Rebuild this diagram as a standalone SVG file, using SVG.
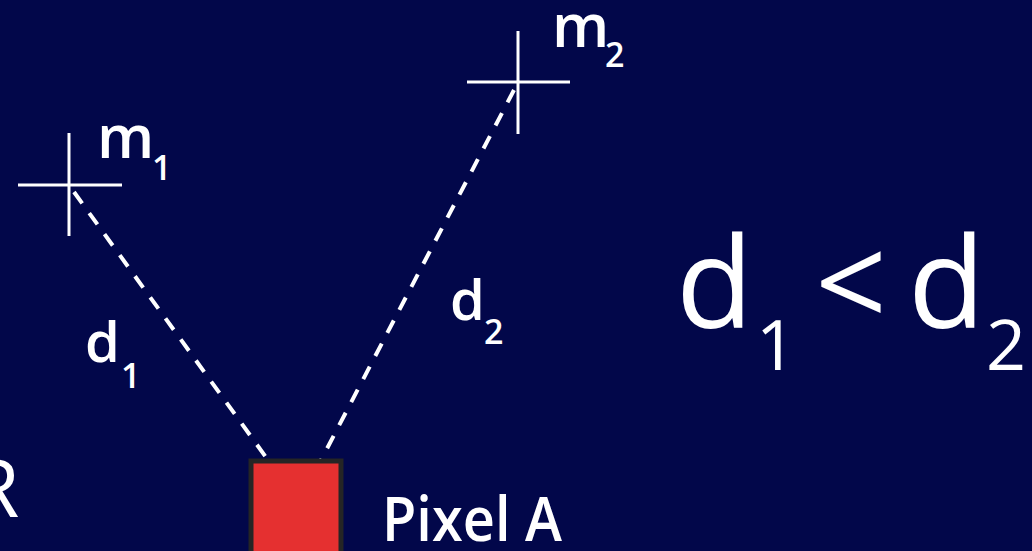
<svg xmlns="http://www.w3.org/2000/svg" width="1032" height="551" viewBox="0 0 1032 551">
<style>
.cross{stroke:#fff;stroke-width:3;fill:none}
.dash{stroke:#fff;stroke-width:4;stroke-dasharray:14 12;fill:none}
.lbl{font-family:"Open Sans",sans-serif;font-weight:600;fill:#fff}
.big{font-family:"Open Sans",sans-serif;font-weight:400;fill:#fff}
</style>
<rect width="1032" height="551" fill="#02074A"/>
<g id="connectors">
<line class="dash" x1="74" y1="192" x2="268" y2="460"/>
<line class="dash" x1="514" y1="90" x2="320" y2="462"/>
</g>
<g id="m1">
<line class="cross" x1="18" y1="185" x2="122" y2="185"/>
<line class="cross" x1="69" y1="133" x2="69" y2="236"/>
<text class="lbl" x="97" y="158" font-size="60">m</text>
<text class="lbl" x="152" y="180" font-size="34">1</text>
</g>
<g id="m2">
<line class="cross" x1="467" y1="82" x2="570" y2="82"/>
<line class="cross" x1="518" y1="31" x2="518" y2="134"/>
<text class="lbl" x="552" y="47" font-size="60">m</text>
<text class="lbl" x="605" y="67" font-size="34">2</text>
</g>
<g id="d1label">
<text class="lbl" x="85" y="362" font-size="56">d</text>
<text class="lbl" x="121" y="388" font-size="34">1</text>
</g>
<g id="d2label">
<text class="lbl" x="450" y="320" font-size="56">d</text>
<text class="lbl" x="484" y="344" font-size="34">2</text>
</g>
<g id="inequality">
<text class="big" x="676" y="328" font-size="126">d</text>
<text class="big" x="756" y="370" font-size="70">1</text>
<text class="big" x="815" y="328" font-size="126">&lt;</text>
<text class="big" x="908" y="328" font-size="126">d</text>
<text class="big" x="986" y="370" font-size="70">2</text>
</g>
<g id="pixelA">
<rect x="251" y="461" width="90" height="100" fill="#E53030" stroke="#252525" stroke-width="5"/>
<text class="lbl" x="382" y="541" font-size="62" textLength="180" lengthAdjust="spacingAndGlyphs">Pixel A</text>
</g>
<g id="R">
<text class="big" x="-30" y="517" font-size="80">R</text>
</g>
</svg>
